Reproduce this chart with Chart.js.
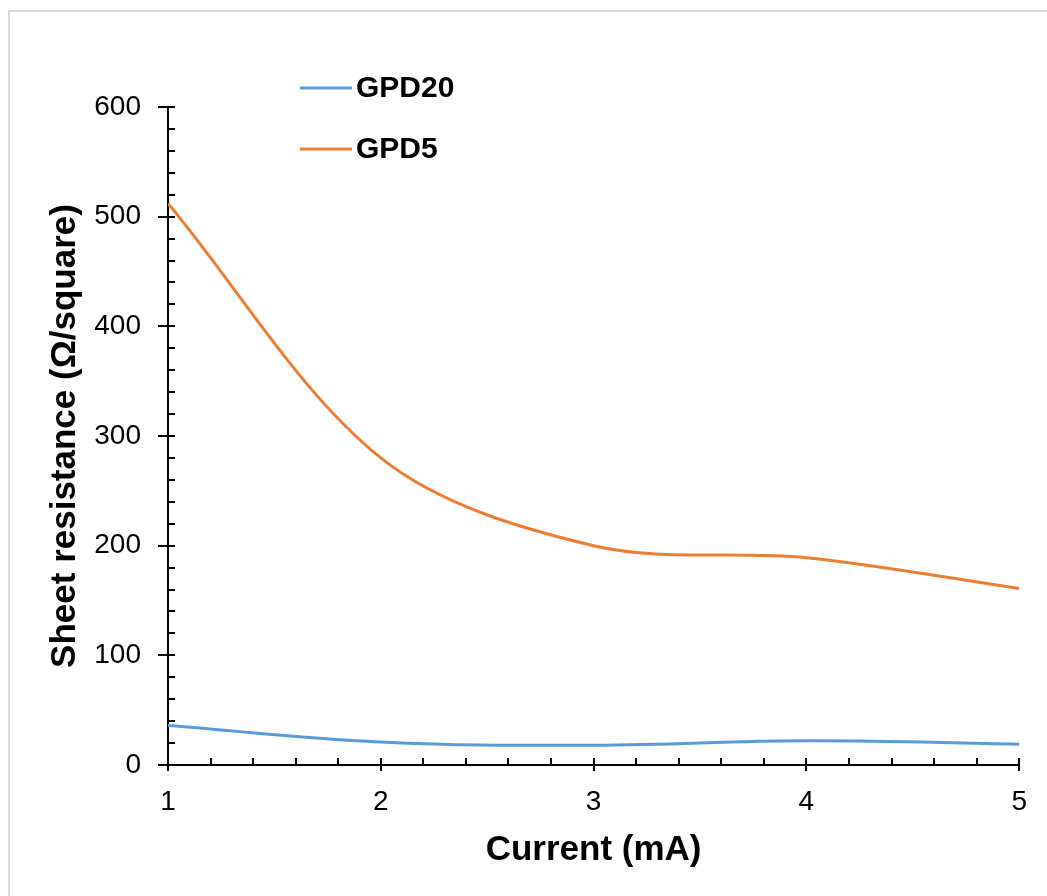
<!DOCTYPE html>
<html>
<head>
<meta charset="utf-8">
<title>Sheet resistance vs current</title>
<script src="https://cdn.jsdelivr.net/npm/chart.js@4/dist/chart.umd.min.js"></script>
<style>
	html, body { margin: 0; padding: 0; background: #fff; overflow: hidden; }
	#wrap { position: relative; width: 1047px; height: 896px; }
	#frame {
		position: absolute; left: 8px; top: 10px; width: 1100px; height: 950px;
		border-top: 2px solid #d9d9d9; border-left: 2px solid #d9d9d9;
		pointer-events: none;
	}
	canvas { position: absolute; left: 0; top: 0; }
</style>
</head>
<body>
<div id="wrap">
	<canvas id="chart" width="1047" height="896"></canvas>
	<div id="frame"></div>
</div>
<script>
// measured values, current in mA and sheet resistance in ohm/square
const currents = [1, 2, 3, 4, 5];
const gpd20 = [36, 21, 18, 22, 19];
const gpd5 = [512, 280, 200, 189, 161];

const seriesNames = ['GPD20', 'GPD5'];
const seriesColors = ['#5B9BD5', '#ED7D31'];

const xMin = 1, xMax = 5, xStep = 1, xMinorStep = 0.2;
const yMin = 0, yMax = 600, yStep = 100, yMinorStep = 20;

const fontFamily = '"Liberation Sans", Arial, sans-serif';

function toPoints(values) {
	return currents.map((c, i) => ({ x: c, y: values[i] }));
}

// Excel-style tick marks: majors cross the axis, minors point inward
const axisTicks = {
	id: 'axisTicks',
	afterDraw(chart) {
		const ctx = chart.ctx;
		const xs = chart.scales.x;
		const ys = chart.scales.y;
		const x0 = xs.left;
		const y0 = ys.bottom;
		ctx.save();
		ctx.strokeStyle = '#000';
		ctx.lineWidth = 2;
		ctx.beginPath();
		for (let v = yMin; v <= yMax + 1e-9; v += yMinorStep) {
			const py = Math.round(ys.getPixelForValue(v));
			const major = Math.abs(v / yStep - Math.round(v / yStep)) < 1e-6;
			ctx.moveTo(major ? x0 - 10 : x0, py);
			ctx.lineTo(x0 + 7, py);
		}
		for (let v = xMin; v <= xMax + 1e-9; v += xMinorStep) {
			const px = Math.round(xs.getPixelForValue(v));
			const major = Math.abs(v / xStep - Math.round(v / xStep)) < 1e-6;
			ctx.moveTo(px, y0 - 7);
			ctx.lineTo(px, major ? y0 + 6 : y0);
		}
		ctx.stroke();
		ctx.restore();
	}
};

// legend drawn as two stacked rows above the plot
const stackedLegend = {
	id: 'stackedLegend',
	afterDraw(chart) {
		const ctx = chart.ctx;
		const rows = [88, 149];
		ctx.save();
		chart.data.datasets.forEach((ds, i) => {
			const y = rows[i];
			ctx.strokeStyle = ds.borderColor;
			ctx.lineWidth = 3;
			ctx.beginPath();
			ctx.moveTo(300, y);
			ctx.lineTo(352, y);
			ctx.stroke();
			ctx.fillStyle = '#000';
			ctx.font = 'bold 30px ' + fontFamily;
			ctx.textBaseline = 'middle';
			ctx.textAlign = 'left';
			ctx.fillText(ds.label, 356, y + 1);
		});
		ctx.restore();
	}
};

function init() {
	const ctx = document.getElementById('chart').getContext('2d');
	new Chart(ctx, {
		type: 'line',
		data: {
			datasets: [
				{
					label: seriesNames[0],
					data: toPoints(gpd20),
					borderColor: seriesColors[0],
					borderWidth: 3,
					pointRadius: 0,
					tension: 0.4,
					fill: false
				},
				{
					label: seriesNames[1],
					data: toPoints(gpd5),
					borderColor: seriesColors[1],
					borderWidth: 3,
					pointRadius: 0,
					tension: 0.33,
					fill: false
				}
			]
		},
		options: {
			responsive: false,
			animation: false,
			layout: {
				padding: { left: 0, right: 25, top: 107, bottom: 0 }
			},
			plugins: {
				legend: { display: false },
				tooltip: { enabled: false }
			},
			scales: {
				x: {
					type: 'linear',
					min: xMin,
					max: xMax,
					afterFit(scale) { scale.height = 131; },
					ticks: {
						stepSize: xStep,
						padding: 20,
						color: '#000',
						font: { family: fontFamily, size: 28 }
					},
					grid: { display: false, drawTicks: false },
					border: { display: true, color: '#000', width: 2 },
					title: {
						display: true,
						text: 'Current (mA)',
						color: '#000',
						font: { family: fontFamily, size: 35, weight: 'bold' },
						padding: { top: 0, bottom: 25 }
					}
				},
				y: {
					min: yMin,
					max: yMax,
					afterFit(scale) { scale.width = 168; },
					ticks: {
						stepSize: yStep,
						padding: 27,
						color: '#000',
						font: { family: fontFamily, size: 28 }
					},
					grid: { display: false, drawTicks: false },
					border: { display: true, color: '#000', width: 2 },
					title: {
						display: true,
						text: 'Sheet resistance (Ω/square)',
						color: '#000',
						font: { family: fontFamily, size: 35, weight: 'bold' },
						padding: { top: 44, bottom: 0 }
					}
				}
			}
		},
		plugins: [axisTicks, stackedLegend]
	});
}

document.addEventListener('DOMContentLoaded', init);
</script>
</body>
</html>
